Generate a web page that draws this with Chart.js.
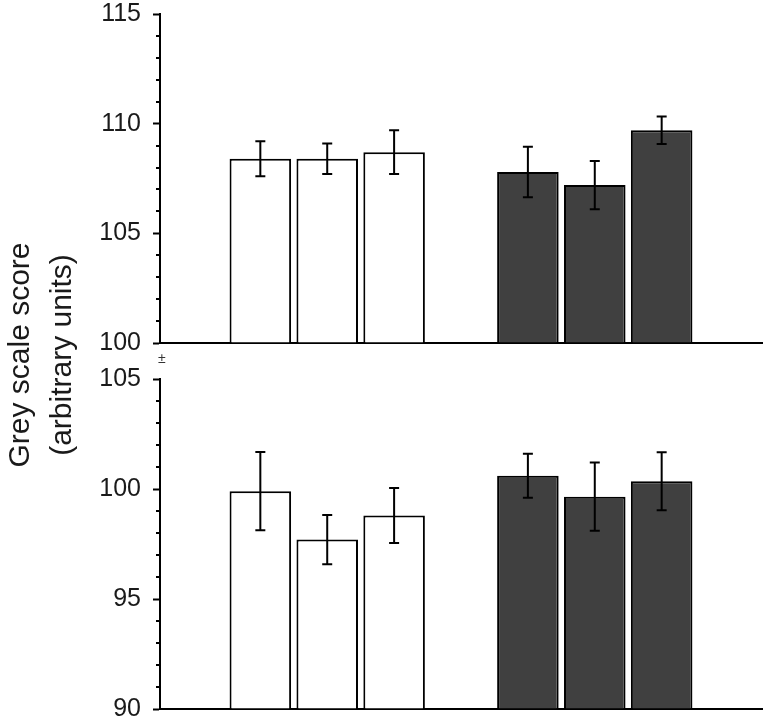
<!DOCTYPE html>
<html>
<head>
<meta charset="utf-8">
<script src="https://cdn.jsdelivr.net/npm/chart.js@4/dist/chart.umd.min.js"></script>
<style>
  html, body { margin: 0; padding: 0; background: #fff; }
  #wrap { position: relative; width: 766px; height: 723px; overflow: hidden; }
  canvas { position: absolute; left: 0; }
  #top { top: 0; }
  #bottom { top: 362px; }
  #ytitle {
    position: absolute; left: -110px; top: 313px; width: 300px; height: 84px;
    font-family: "Liberation Sans", Arial, sans-serif; font-size: 30px; line-height: 42px;
    color: #1a1a1a; text-align: center; transform: rotate(-90deg);
  }
  #pm {
    position: absolute; left: 158px; top: 350px;
    font-family: "Liberation Sans", Arial, sans-serif; font-size: 14px; color: #333;
  }
</style>
</head>
<body>
<div id="wrap">
  <canvas id="top" width="766" height="362"></canvas>
  <canvas id="bottom" width="766" height="361"></canvas>
  <div id="ytitle">Grey scale score<br>(arbitrary units)</div>
  <div id="pm">±</div>
</div>
<script>
// categories (empty slots keep the two groups apart)
const categories = ['', 'W1', 'W2', 'W3', '', 'D1', 'D2', 'D3', ''];

// top panel
const topValues = [null, 108.4, 108.4, 108.7, null, 107.8, 107.2, 109.7, null];
const topErrors = [null, 0.8, 0.7, 1.0, null, 1.15, 1.1, 0.63, null];
const topTicks = [100, 105, 110, 115];

// bottom panel
const bottomValues = [null, 99.9, 97.7, 98.8, null, 100.6, 99.65, 100.35, null];
const bottomErrors = [null, 1.78, 1.12, 1.25, null, 1.0, 1.55, 1.32, null];
const bottomTicks = [90, 95, 100, 105];

const barColors = ['#fff', '#fff', '#fff', '#fff', '#fff', '#404040', '#404040', '#404040', '#fff'];

// error bars with caps
const errorBars = {
  id: 'errorBars',
  afterDatasetsDraw(chart) {
    const c = chart.ctx;
    const yScale = chart.scales.y;
    const ds = chart.data.datasets[0];
    const meta = chart.getDatasetMeta(0);
    c.save();
    c.strokeStyle = '#000';
    c.lineWidth = 2;
    meta.data.forEach((bar, i) => {
      const v = ds.data[i];
      const e = ds.errors[i];
      if (v == null || e == null) return;
      const yHi = yScale.getPixelForValue(v + e);
      const yLo = yScale.getPixelForValue(v - e);
      c.beginPath();
      c.moveTo(bar.x, yHi); c.lineTo(bar.x, yLo);
      c.moveTo(bar.x - 5, yHi); c.lineTo(bar.x + 5, yHi);
      c.moveTo(bar.x - 5, yLo); c.lineTo(bar.x + 5, yLo);
      c.stroke();
    });
    c.restore();
  }
};

// short minor ticks between the labelled ones
const minorTicks = {
  id: 'minorTicks',
  afterDraw(chart) {
    const c = chart.ctx;
    const s = chart.scales.y;
    c.save();
    c.strokeStyle = '#000';
    c.lineWidth = 2;
    s.ticks.forEach(t => {
      if (t.value % 5 === 0) return;
      const y = Math.round(s.getPixelForValue(t.value));
      c.beginPath();
      c.moveTo(s.right - 4, y); c.lineTo(s.right, y);
      c.stroke();
    });
    c.restore();
  }
};

function makeChart(id, values, errors, ticks, pad) {
  const min = ticks[0], max = ticks[ticks.length - 1];
  return new Chart(document.getElementById(id), {
    type: 'bar',
    data: {
      labels: categories,
      datasets: [{
        data: values,
        errors: errors,
        base: min,
        backgroundColor: barColors,
        borderColor: '#000',
        borderWidth: 2,
        categoryPercentage: 1,
        barPercentage: 0.92
      }]
    },
    options: {
      responsive: false,
      animation: false,
      devicePixelRatio: 1,
      layout: { padding: pad },
      plugins: { legend: { display: false }, tooltip: { enabled: false } },
      scales: {
        x: {
          ticks: { display: false },
          grid: { display: true, drawOnChartArea: false, drawTicks: false },
          border: { display: true, color: '#000', width: 2 },
          afterFit: s => { s.height = 0; s.paddingLeft = 0; s.paddingRight = 0; }
        },
        y: {
          min: min,
          max: max,
          ticks: {
            stepSize: 1,
            autoSkip: false,
            padding: 12,
            color: '#1a1a1a',
            font: { family: '"Liberation Sans", Arial, sans-serif', size: 25 },
            callback: v => (v % 5 === 0 ? v : '')
          },
          grid: {
            drawOnChartArea: false,
            tickLength: 7,
            tickWidth: 2,
            tickColor: ctx => (ctx.tick && ctx.tick.value % 5 === 0 ? '#000' : 'rgba(0,0,0,0)')
          },
          border: { display: true, color: '#000', width: 2 },
          afterFit: s => { s.width = 160; s.paddingTop = 0; s.paddingBottom = 0; }
        }
      }
    },
    plugins: [errorBars, minorTicks]
  });
}

makeChart('top', topValues, topErrors, topTicks, { top: 14, bottom: 19, left: 0, right: 4 });
makeChart('bottom', bottomValues, bottomErrors, bottomTicks, { top: 17, bottom: 14, left: 0, right: 4 });
</script>
</body>
</html>
